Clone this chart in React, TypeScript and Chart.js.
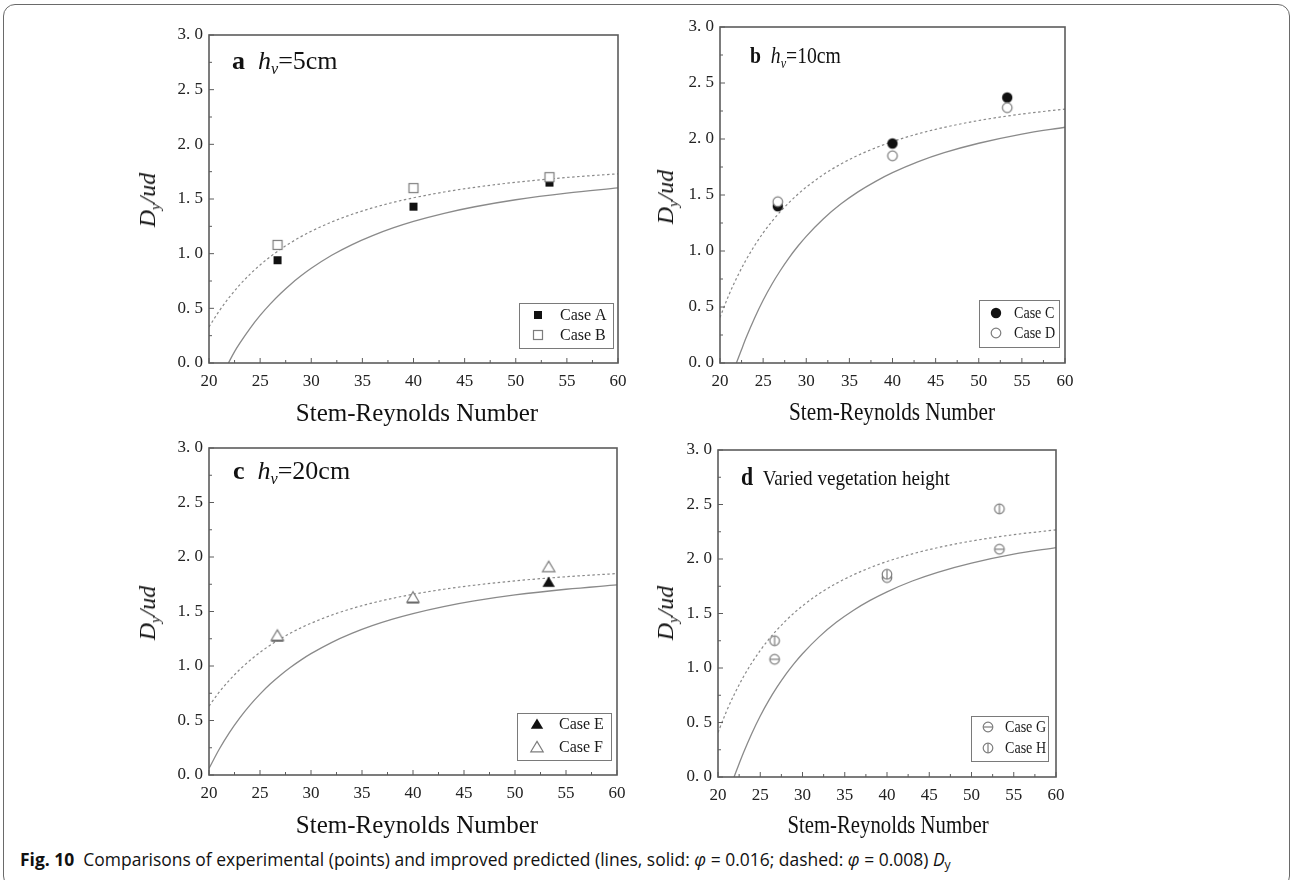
import React, { useEffect, useRef } from 'react';
import { Chart, registerables } from 'chart.js';

Chart.register(...registerables);

// ---------- data ----------
const RE_POINTS = [26.7, 40.0, 53.3];

const CASE_A = [0.94, 1.43, 1.65];
const CASE_B = [1.08, 1.60, 1.70];
const CASE_C = [1.40, 1.96, 2.37];
const CASE_D = [1.44, 1.85, 2.28];
const CASE_E = [1.27, 1.62, 1.77];
const CASE_F = [1.28, 1.63, 1.91];
const CASE_G = [1.08, 1.83, 2.09];
const CASE_H = [1.25, 1.86, 2.46];

const CURVE_X = [20, 21, 22, 23, 24, 25, 26, 27, 28, 29, 30, 32, 34, 36, 38, 40, 43, 46, 50, 55, 60];
const CURVE_X_LATE = [21.9, 22.5, 23, 24, 25, 26, 27, 28, 29, 30, 32, 34, 36, 38, 40, 43, 46, 50, 55, 60];

const SOLID_A = [0.0, 0.104, 0.179, 0.315, 0.435, 0.541, 0.636, 0.721, 0.797, 0.866, 0.985, 1.083, 1.165, 1.235, 1.295, 1.369, 1.429, 1.493, 1.554, 1.601];
const DASHED_A = [0.33, 0.476, 0.603, 0.714, 0.811, 0.897, 0.973, 1.041, 1.101, 1.156, 1.205, 1.29, 1.36, 1.419, 1.469, 1.511, 1.564, 1.607, 1.653, 1.697, 1.73];

const SOLID_BD = [0.0, 0.121, 0.22, 0.4, 0.56, 0.701, 0.826, 0.939, 1.04, 1.131, 1.288, 1.419, 1.528, 1.62, 1.699, 1.798, 1.878, 1.962, 2.044, 2.105];
const DASHED_BD = [0.407, 0.602, 0.77, 0.918, 1.047, 1.161, 1.262, 1.352, 1.432, 1.505, 1.57, 1.683, 1.776, 1.854, 1.92, 1.977, 2.047, 2.104, 2.165, 2.223, 2.267];

const SOLID_C = [0.06, 0.236, 0.389, 0.522, 0.639, 0.742, 0.834, 0.915, 0.988, 1.054, 1.113, 1.215, 1.299, 1.37, 1.43, 1.481, 1.545, 1.597, 1.652, 1.704, 1.744];
const DASHED_C = [0.632, 0.76, 0.87, 0.966, 1.05, 1.125, 1.191, 1.25, 1.302, 1.35, 1.392, 1.466, 1.527, 1.578, 1.621, 1.658, 1.704, 1.741, 1.781, 1.819, 1.848];

const X_MIN = 20;
const X_MAX = 60;
const X_STEP = 5;
const Y_MIN = 0;
const Y_MAX = 3;
const Y_STEP = 0.5;

const X_TITLE = 'Stem-Reynolds Number';

// ---------- styles ----------
const SERIF = "'Liberation Serif', 'Times New Roman', serif";
const SANS = "'Open Sans', 'Noto Sans', sans-serif";
const AXIS_COLOR = '#5c5c5c';
const LINE_COLOR = '#8a8a8a';
const DARK = '#111111';
const GRAY = '#7d7d7d';

type MarkerKind =
  | 'squareFilled'
  | 'squareOpen'
  | 'circleFilled'
  | 'circleOpen'
  | 'triFilled'
  | 'triOpen'
  | 'circleH'
  | 'circleV';

function makeMarker(kind: MarkerKind): HTMLCanvasElement {
  const S = 16;
  const c = document.createElement('canvas');
  c.width = S;
  c.height = S;
  const g = c.getContext('2d')!;
  const cx = S / 2;
  const cy = S / 2;
  g.lineWidth = 1.2;
  const openCircle = () => {
    g.beginPath();
    g.arc(cx, cy, 4.8, 0, Math.PI * 2);
    g.fillStyle = '#ffffff';
    g.fill();
    g.strokeStyle = GRAY;
    g.stroke();
  };
  const tri = () => {
    g.beginPath();
    g.moveTo(cx, cy - 5.6);
    g.lineTo(cx + 6.2, cy + 4.8);
    g.lineTo(cx - 6.2, cy + 4.8);
    g.closePath();
  };
  switch (kind) {
    case 'squareFilled':
      g.fillStyle = DARK;
      g.fillRect(cx - 4, cy - 4, 8, 8);
      break;
    case 'squareOpen':
      g.fillStyle = '#ffffff';
      g.fillRect(cx - 4.5, cy - 4.5, 9, 9);
      g.strokeStyle = GRAY;
      g.strokeRect(cx - 4.5, cy - 4.5, 9, 9);
      break;
    case 'circleFilled':
      g.beginPath();
      g.arc(cx, cy, 5.2, 0, Math.PI * 2);
      g.fillStyle = DARK;
      g.fill();
      break;
    case 'circleOpen':
      openCircle();
      break;
    case 'triFilled':
      tri();
      g.fillStyle = DARK;
      g.fill();
      break;
    case 'triOpen':
      tri();
      g.fillStyle = '#ffffff';
      g.fill();
      g.strokeStyle = GRAY;
      g.stroke();
      break;
    case 'circleH':
      openCircle();
      g.beginPath();
      g.moveTo(cx - 4.8, cy);
      g.lineTo(cx + 4.8, cy);
      g.stroke();
      break;
    case 'circleV':
      openCircle();
      g.beginPath();
      g.moveTo(cx, cy - 4.8);
      g.lineTo(cx, cy + 4.8);
      g.stroke();
      break;
  }
  return c;
}

type LineDef = { x: number[]; y: number[]; dashed: boolean };
type PointDef = { label: string; y: number[]; marker: MarkerKind };
type LegendDef = {
  w: number;
  h: number;
  gapR: number;
  gapB: number;
  markerX: number;
  textX: number;
  rows: number[];
};
type PanelDef = {
  key: string;
  plot: { l: number; t: number; r: number; b: number };
  lines: LineDef[];
  points: PointDef[];
  legend: LegendDef;
  squeeze: number;
};

const PANELS: PanelDef[] = [
  {
    key: 'a',
    plot: { l: 209, t: 35, r: 618, b: 363 },
    lines: [
      { x: CURVE_X_LATE, y: SOLID_A, dashed: false },
      { x: CURVE_X, y: DASHED_A, dashed: true },
    ],
    points: [
      { label: 'Case A', y: CASE_A, marker: 'squareFilled' },
      { label: 'Case B', y: CASE_B, marker: 'squareOpen' },
    ],
    legend: { w: 94, h: 45, gapR: 5, gapB: 15, markerX: 19, textX: 41, rows: [12, 32] },
    squeeze: 1,
  },
  {
    key: 'b',
    plot: { l: 720, t: 27, r: 1065, b: 363 },
    lines: [
      { x: CURVE_X_LATE, y: SOLID_BD, dashed: false },
      { x: CURVE_X, y: DASHED_BD, dashed: true },
    ],
    points: [
      { label: 'Case C', y: CASE_C, marker: 'circleFilled' },
      { label: 'Case D', y: CASE_D, marker: 'circleOpen' },
    ],
    legend: { w: 80, h: 47, gapR: 6, gapB: 16, markerX: 17, textX: 35, rows: [13, 33] },
    squeeze: 0.88,
  },
  {
    key: 'c',
    plot: { l: 209, t: 448, r: 617, b: 775 },
    lines: [
      { x: CURVE_X, y: SOLID_C, dashed: false },
      { x: CURVE_X, y: DASHED_C, dashed: true },
    ],
    points: [
      { label: 'Case E', y: CASE_E, marker: 'triFilled' },
      { label: 'Case F', y: CASE_F, marker: 'triOpen' },
    ],
    legend: { w: 94, h: 47, gapR: 6, gapB: 15, markerX: 20, textX: 42, rows: [11, 34] },
    squeeze: 1,
  },
  {
    key: 'd',
    plot: { l: 718, t: 450, r: 1056, b: 777 },
    lines: [
      { x: CURVE_X_LATE, y: SOLID_BD, dashed: false },
      { x: CURVE_X, y: DASHED_BD, dashed: true },
    ],
    points: [
      { label: 'Case G', y: CASE_G, marker: 'circleH' },
      { label: 'Case H', y: CASE_H, marker: 'circleV' },
    ],
    legend: { w: 77, h: 45, gapR: 8, gapB: 16, markerX: 17, textX: 34, rows: [11, 32] },
    squeeze: 0.88,
  },
];

const YW = 70;
const XH = 40;
const PT = 12;
const PR = 14;

function Panel({ def }: { def: PanelDef }) {
  const ref = useRef<HTMLCanvasElement>(null);
  const { l, t, r, b } = def.plot;
  const w = r - l + YW + PR;
  const h = b - t + PT + XH;

  useEffect(() => {
    const markers = def.points.map((p) => makeMarker(p.marker));

    const datasets: any[] = [];
    def.points.forEach((p, i) => {
      datasets.push({
        label: p.label,
        data: RE_POINTS.map((x, k) => ({ x, y: p.y[k] })),
        showLine: false,
        pointStyle: markers[i],
        pointRadius: 6,
        order: def.points.length - i,
      });
    });
    def.lines.forEach((ln) => {
      datasets.push({
        label: ln.dashed ? 'dashed' : 'solid',
        data: ln.x.map((x, k) => ({ x, y: ln.y[k] })),
        showLine: true,
        pointRadius: 0,
        borderColor: LINE_COLOR,
        borderWidth: ln.dashed ? 1.2 : 1.3,
        borderDash: ln.dashed ? [2.5, 2.5] : [],
        cubicInterpolationMode: 'monotone',
        fill: false,
        order: 20,
      });
    });

    const frame = {
      id: 'frame',
      afterDatasetsDraw(chart: any) {
        const ctx = chart.ctx as CanvasRenderingContext2D;
        const a = chart.chartArea;
        const xs = chart.scales.x;
        const ys = chart.scales.y;
        ctx.save();
        ctx.strokeStyle = AXIS_COLOR;
        ctx.lineWidth = 1;
        const xt = xs.ticks.map((tk: any) => tk.value);
        ctx.beginPath();
        xt.forEach((v: number, i: number) => {
          const px = xs.getPixelForValue(v);
          ctx.moveTo(px, a.bottom);
          ctx.lineTo(px, a.bottom - 5);
          if (i < xt.length - 1) {
            const mx = xs.getPixelForValue((v + xt[i + 1]) / 2);
            ctx.moveTo(mx, a.bottom);
            ctx.lineTo(mx, a.bottom - 3);
          }
        });
        const yt = ys.ticks.map((tk: any) => tk.value);
        yt.forEach((v: number, i: number) => {
          const py = ys.getPixelForValue(v);
          ctx.moveTo(a.left, py);
          ctx.lineTo(a.left + 5, py);
          if (i < yt.length - 1) {
            const my = ys.getPixelForValue((v + yt[i + 1]) / 2);
            ctx.moveTo(a.left, my);
            ctx.lineTo(a.left + 3, my);
          }
        });
        ctx.stroke();
        ctx.lineWidth = 1.6;
        ctx.strokeRect(a.left, a.top, a.right - a.left, a.bottom - a.top);

        const L = def.legend;
        const bx = a.right - L.gapR - L.w;
        const by = a.bottom - L.gapB - L.h;
        ctx.fillStyle = '#ffffff';
        ctx.fillRect(bx, by, L.w, L.h);
        ctx.strokeStyle = '#7a7a7a';
        ctx.lineWidth = 1;
        ctx.strokeRect(bx + 0.5, by + 0.5, L.w, L.h);
        def.points.forEach((p, i) => {
          const m = markers[i];
          const my = by + L.rows[i];
          ctx.drawImage(m, Math.round(bx + L.markerX - m.width / 2), Math.round(my - m.height / 2));
          ctx.save();
          ctx.translate(bx + L.textX, my);
          ctx.scale(def.squeeze, 1);
          ctx.fillStyle = '#1a1a1a';
          ctx.font = `16px ${SERIF}`;
          ctx.textBaseline = 'middle';
          ctx.textAlign = 'left';
          ctx.fillText(p.label, 0, 1);
          ctx.restore();
        });
        ctx.restore();
      },
    };

    const chart = new Chart(ref.current!, {
      type: 'scatter',
      data: { datasets },
      options: {
        animation: false,
        responsive: false,
        devicePixelRatio: 1,
        events: [],
        layout: { padding: { left: 0, top: PT, right: PR, bottom: 0 } },
        plugins: {
          legend: { display: false },
          tooltip: { enabled: false },
          title: { display: false },
        },
        scales: {
          x: {
            type: 'linear',
            min: X_MIN,
            max: X_MAX,
            grid: { display: false, drawTicks: false },
            border: { display: false },
            ticks: {
              stepSize: X_STEP,
              autoSkip: false,
              maxRotation: 0,
              padding: 8,
              color: '#222222',
              font: { family: SERIF, size: 17 },
            },
            afterFit: (s: any) => {
              s.height = XH;
              s.paddingLeft = 0;
              s.paddingRight = 0;
            },
          },
          y: {
            type: 'linear',
            min: Y_MIN,
            max: Y_MAX,
            grid: { display: false, drawTicks: false },
            border: { display: false },
            ticks: {
              stepSize: Y_STEP,
              autoSkip: false,
              padding: 6,
              color: '#222222',
              font: { family: SERIF, size: 17 },
              callback: (v: any) => Number(v).toFixed(1).replace('.', '. '),
            },
            afterFit: (s: any) => {
              s.width = YW;
              s.paddingTop = 0;
              s.paddingBottom = 0;
            },
          },
        },
      } as any,
      plugins: [frame],
    });
    return () => chart.destroy();
  }, []);

  return (
    <canvas
      ref={ref}
      width={w}
      height={h}
      style={{ position: 'absolute', left: l - YW, top: t - PT, width: w, height: h }}
    />
  );
}

function Txt({
  x,
  baseline,
  size,
  squeeze = 1,
  center = false,
  family = SERIF,
  ascentK = 0.8375,
  children,
}: {
  x: number;
  baseline: number;
  size: number;
  squeeze?: number;
  center?: boolean;
  family?: string;
  ascentK?: number;
  children: React.ReactNode;
}) {
  return (
    <div
      style={{
        position: 'absolute',
        left: x,
        top: baseline - ascentK * size,
        fontFamily: family,
        fontSize: size,
        lineHeight: `${size}px`,
        whiteSpace: 'nowrap',
        color: '#111',
        transform: `${center ? 'translateX(-50%) ' : ''}scaleX(${squeeze})`,
        transformOrigin: center ? 'center' : 'left',
      }}
    >
      {children}
    </div>
  );
}

const subStyle: React.CSSProperties = {
  fontSize: '0.62em',
  verticalAlign: '-0.32em',
  lineHeight: 0,
};

function YTitle({ cx, cy }: { cx: number; cy: number }) {
  return (
    <div
      style={{
        position: 'absolute',
        left: cx,
        top: cy,
        fontFamily: SERIF,
        fontSize: 24,
        lineHeight: '24px',
        whiteSpace: 'nowrap',
        color: '#111',
        fontStyle: 'italic',
        transform: 'translate(-50%, -50%) rotate(-90deg)',
      }}
    >
      D<sub style={subStyle}>y</sub>/ud
    </div>
  );
}

function HvLabel({ letter, value }: { letter: string; value: string }) {
  return (
    <>
      <b>{letter}</b>
      {'\u00a0\u00a0'}
      <i>h</i>
      <sub style={subStyle}>
        <i>v</i>
      </sub>
      {value}
    </>
  );
}

export default function App() {
  return (
    <div
      style={{
        position: 'fixed',
        left: 0,
        top: 0,
        width: 1290,
        height: 880,
        overflow: 'hidden',
        background: '#ffffff',
      }}
    >
      <div
        style={{
          position: 'absolute',
          left: 3,
          top: 4,
          width: 1287,
          height: 884,
          border: '1.6px solid #6a6a6a',
          borderRadius: 12,
          boxSizing: 'border-box',
        }}
      />
      {PANELS.map((p) => (
        <Panel key={p.key} def={p} />
      ))}

      <Txt x={232} baseline={70} size={26}>
        <HvLabel letter="a" value="=5cm" />
      </Txt>
      <Txt x={750} baseline={63} size={24} squeeze={0.82}>
        <HvLabel letter="b" value="=10cm" />
      </Txt>
      <Txt x={233} baseline={480} size={26}>
        <HvLabel letter="c" value="=20cm" />
      </Txt>
      <Txt x={741} baseline={484} size={22} squeeze={0.87}>
        <b style={{ fontSize: 25 }}>d</b>
        {'\u00a0\u00a0'}Varied vegetation height
      </Txt>

      <YTitle cx={147} cy={200} />
      <YTitle cx={665} cy={197} />
      <YTitle cx={147} cy={613} />
      <YTitle cx={665} cy={613} />

      <Txt x={417} baseline={421} size={25} center>
        {X_TITLE}
      </Txt>
      <Txt x={892} baseline={420} size={25} center squeeze={0.85}>
        {X_TITLE}
      </Txt>
      <Txt x={417} baseline={833} size={25} center>
        {X_TITLE}
      </Txt>
      <Txt x={888} baseline={833} size={25} center squeeze={0.83}>
        {X_TITLE}
      </Txt>

      <Txt x={20} baseline={866} size={18} family={SANS} ascentK={0.888} squeeze={0.97}>
        <b>Fig. 10</b>
        {'\u00a0\u00a0'}Comparisons of experimental (points) and improved predicted (lines, solid:{' '}
        <i>φ</i> = 0.016; dashed: <i>φ</i> = 0.008) <i>D</i>
        <sub style={{ fontSize: '0.7em', verticalAlign: '-0.25em', lineHeight: 0 }}>y</sub>
      </Txt>
    </div>
  );
}
